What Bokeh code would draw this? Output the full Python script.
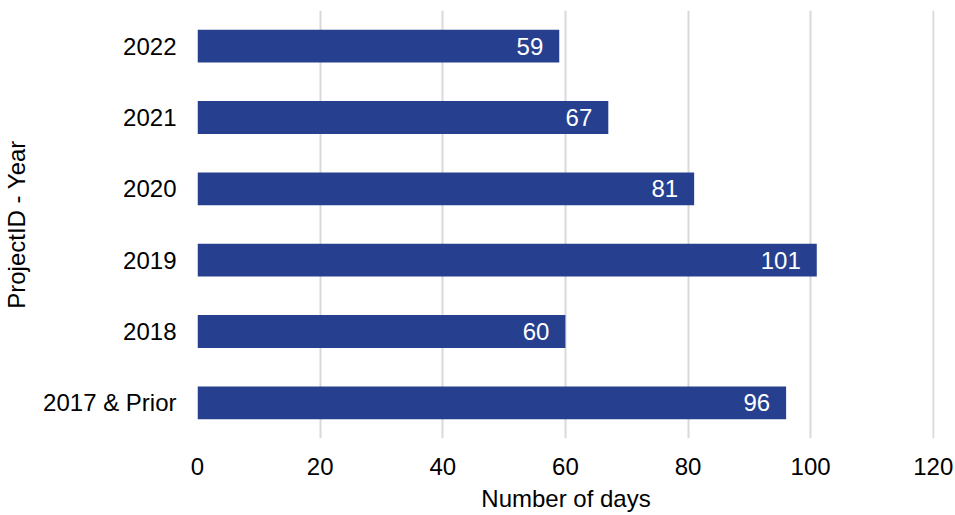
from bokeh.plotting import figure
from bokeh.models import ColumnDataSource, FactorRange, Range1d, FixedTicker, LabelSet
from bokeh.core.properties import value
from bokeh.embed import file_html
from bokeh.resources import INLINE

categories = ["2017 & Prior", "2018", "2019", "2020", "2021", "2022"]
days = [96, 60, 101, 81, 67, 59]
x_ticks = [0, 20, 40, 60, 80, 100, 120]

FONT = "Liberation Sans"
BAR = "#26408f"
FS = "24px"

src = ColumnDataSource(dict(cat=categories, days=days, lbl=[str(d) for d in days]))

p = figure(width=955, height=515, output_backend="svg", toolbar_location=None,
           y_range=FactorRange(*categories, range_padding=0),
           x_range=Range1d(0, 120.2),
           frame_width=737, frame_height=428,
           min_border_left=197, min_border_right=21, min_border_top=10, min_border_bottom=77)
p.outline_line_color = None
p.background_fill_color = "white"
p.border_fill_color = "white"

p.hbar(y="cat", right="days", left=0, height=0.46, source=src, color=BAR, line_color=None)

labels = LabelSet(x="days", y="cat", text="lbl", source=src, x_offset=-16,
                  text_align="right", text_baseline="middle", text_color="white",
                  text_font=value(FONT), text_font_size=value(FS))
p.add_layout(labels)

p.xaxis.ticker = FixedTicker(ticks=x_ticks)
p.xgrid.ticker = FixedTicker(ticks=x_ticks)
p.xgrid.grid_line_color = "#d9d9d9"
p.xgrid.grid_line_width = 2
p.ygrid.grid_line_color = None

for ax in (p.xaxis, p.yaxis):
    ax.axis_line_color = None
    ax.major_tick_line_color = None
    ax.minor_tick_line_color = None
    ax.major_tick_out = 0
    ax.major_tick_in = 0
    ax.major_label_text_font = FONT
    ax.major_label_text_font_size = FS
    ax.major_label_text_color = "black"
    ax.axis_label_text_font = FONT
    ax.axis_label_text_font_size = FS
    ax.axis_label_text_font_style = "normal"
    ax.axis_label_text_color = "black"

p.xaxis.axis_label = "Number of days"
p.yaxis.axis_label = "ProjectID - Year"
p.xaxis.major_label_standoff = 19
p.yaxis.major_label_standoff = 21
p.xaxis.axis_label_standoff = 7
p.yaxis.axis_label_standoff = 10

open("out.html", "w").write(file_html(p, INLINE))
